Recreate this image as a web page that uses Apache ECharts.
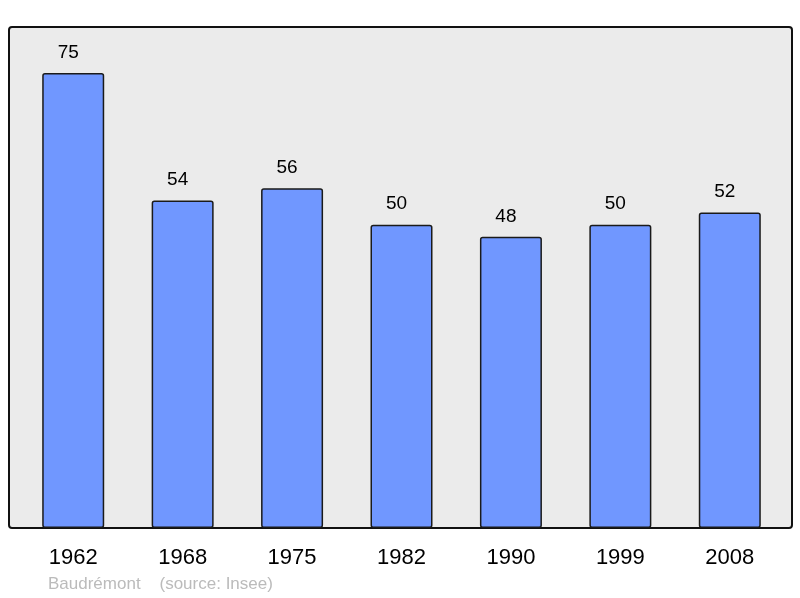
<!DOCTYPE html>
<html>
<head>
<meta charset="utf-8">
<script src="https://cdn.jsdelivr.net/npm/echarts@6/dist/echarts.min.js"></script>
<style>
    html, body { margin: 0; padding: 0; background: #fff; }
    #chart { width: 800px; height: 598px; }
</style>
</head>
<body>
<div id="chart"></div>
<script>
const years = ['1962', '1968', '1975', '1982', '1990', '1999', '2008'];
const population = [75, 54, 56, 50, 48, 50, 52];
const footerText = 'Baudrémont    (source: Insee)';

const myChart = echarts.init(document.getElementById('chart'));

const option = {
    animation: false,
    textStyle: { fontFamily: 'Liberation Sans, Arial, sans-serif' },
    graphic: [
        {
            type: 'rect',
            z: 0,
            shape: { x: 9, y: 27, width: 783, height: 501, r: 3 },
            style: { fill: '#ebebeb', stroke: '#111', lineWidth: 2 }
        },
        {
            type: 'text',
            left: 48,
            top: 576,
            style: {
                text: footerText,
                fill: '#bbbbbb',
                font: '17px "Liberation Sans", Arial, sans-serif'
            }
        }
    ],
    grid: { left: 18.5, right: 15.5, top: 27, bottom: 70 },
    xAxis: {
        type: 'category',
        data: years,
        axisLine: { show: false },
        axisTick: { show: false },
        axisLabel: { color: '#000', fontSize: 22, margin: 19 }
    },
    yAxis: {
        type: 'value',
        min: 0,
        max: 82.6,
        show: false,
        splitLine: { show: false }
    },
    series: [{
        type: 'bar',
        data: population,
        barWidth: 62,
        z: 3,
        itemStyle: {
            color: '#7097ff',
            borderColor: '#1a1a1a',
            borderWidth: 1.5,
            borderRadius: 2
        },
        label: {
            show: true,
            position: 'top',
            distance: 11,
            offset: [-5, 0],
            color: '#000',
            fontSize: 19
        }
    }]
};

myChart.setOption(option);
</script>
</body>
</html>
